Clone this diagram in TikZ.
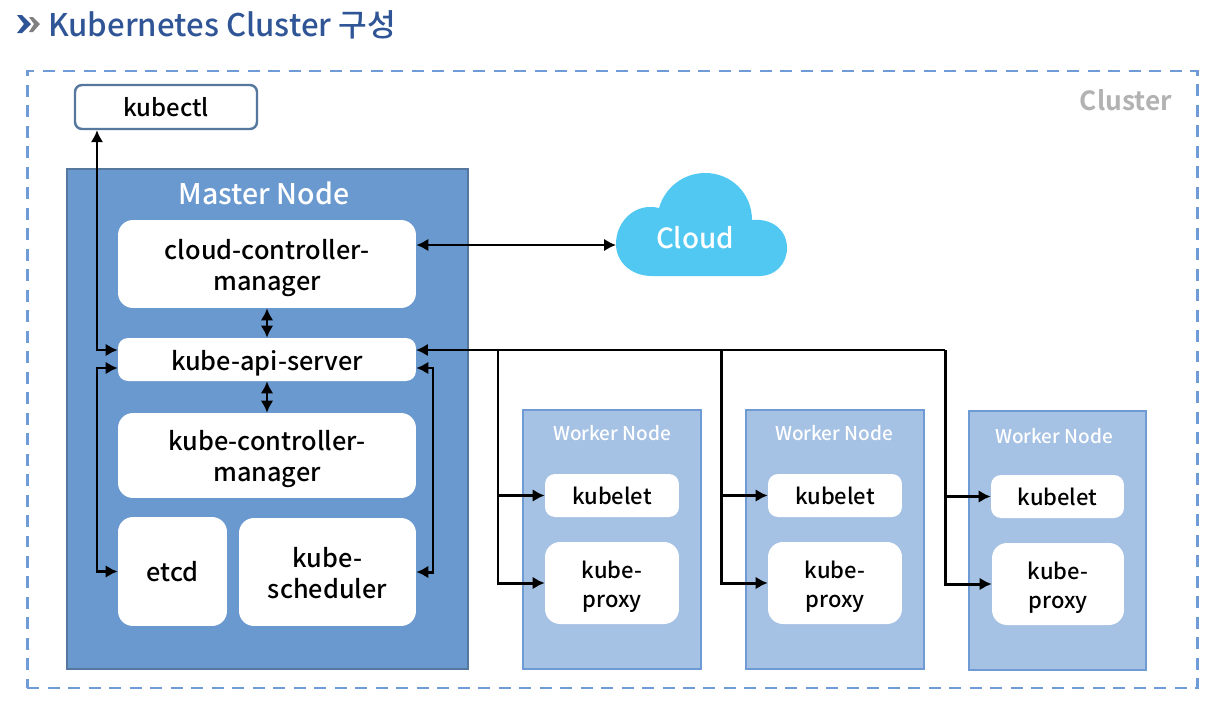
\documentclass[tikz,border=0pt]{standalone}
\usepackage{fontspec}
\setmainfont{Noto Sans CJK KR Medium}[BoldFont={Noto Sans CJK KR Bold}]
\usetikzlibrary{arrows.meta}
\definecolor{titleblue}{HTML}{2F5597}
\definecolor{dashblue}{HTML}{6F9BD6}
\definecolor{masterfill}{HTML}{6A99CF}
\definecolor{masterline}{HTML}{56789F}
\definecolor{workerfill}{HTML}{A5C1E3}
\definecolor{workerline}{HTML}{6E9BD3}
\definecolor{cloudfill}{HTML}{50C8F2}
\tikzset{
  box/.style = {fill=white, rounded corners=0.3cm, align=center, text=black, inner sep=0pt,
                font=\fontsize{14.4}{17.6}\selectfont},
  smallbox/.style = {box, rounded corners=0.2cm},
  worker/.style = {draw=workerline, line width=1.4pt, fill=workerfill, inner sep=0pt,
                   minimum height=5.18cm, minimum width=3.56cm},
  link/.style = {line width=1.7pt, >={Latex[length=6.8pt,width=7.2pt]}, black},
}
\begin{document}
\begin{tikzpicture}[x=0.02cm, y=-0.02cm]
\useasboundingbox (0,0) rectangle (1224,700);
% title
\fill[titleblue] (17,15) -- (22,15) -- (31,24) -- (22,33) -- (17,33) -- (24,24) -- cycle;
\fill[gray] (29,17) -- (33,17) -- (40,24) -- (33,32) -- (29,32) -- (34,24) -- cycle;
\node[anchor=west, inner sep=0pt, text=titleblue, font=\fontsize{17.75}{20}\selectfont] (title) at (48,25) {Kubernetes Cluster 구성};
% cluster
\node[draw=dashblue, line width=1.6pt, dash pattern=on 0.24cm off 0.17cm, minimum width=23.42cm, minimum height=12.34cm, inner sep=0pt] (cluster) at (612.5,379.5) {};
\node[text=black!30, font=\fontsize{15}{18}\selectfont\bfseries, inner sep=0pt] (clusterlabel) at (1126,100) {Cluster};
\node[draw=masterline, line width=1.4pt, fill=white, rounded corners=0.14cm, minimum width=3.64cm, minimum height=0.88cm, inner sep=0pt, font=\fontsize{13.6}{17.6}\selectfont] (kubectl) at (166,107) {kubectl};
% master node
\node[draw=masterline, line width=1.6pt, fill=masterfill, minimum width=8.02cm, minimum height=10cm, inner sep=0pt] (master) at (267.5,419) {};
\node[text=white, inner sep=0pt, font=\fontsize{16.2}{18}\selectfont] (mastertitle) at (264,193) {Master Node};
\node[box, text height=33.1pt, text depth=3.2pt, minimum width=5.96cm, minimum height=1.76cm] (cloudctl) at (267,264) {cloud-controller-\\manager};
\node[smallbox, execute at begin node={\rule{0pt}{1.06em}}, minimum width=5.96cm, minimum height=0.86cm] (api) at (267,359.5) {kube-api-server};
\node[box, text height=32.6pt, text depth=3.2pt, minimum width=5.96cm, minimum height=1.70cm] (kubectl2) at (267,455.5) {kube-controller-\\manager};
\node[box, minimum width=2.18cm, minimum height=2.18cm] (etcd) at (172.5,571.5) {etcd};
\node[box, text height=30.3pt, text depth=0.2pt, minimum width=3.54cm, minimum height=2.16cm] (sched) at (327.5,572) {kube-\\scheduler};
% cloud
\fill[cloudfill] (652,276) .. controls (631,276) and (616,262) .. (616,244)
  .. controls (616,224) and (631,207) .. (650,207)
  .. controls (653,207) and (656,207) .. (659,208)
  .. controls (665,187) and (684,173) .. (705,173)
  .. controls (732,173) and (752,194) .. (752,220)
  .. controls (772,218) and (787,230) .. (787,248)
  .. controls (787,264) and (775,276) .. (760,276) -- cycle;
\node[text=white, inner sep=0pt, font=\fontsize{15.8}{18}\selectfont] (cloud) at (695,238) {Cloud};
\coordinate (cloudW) at (616,245);
% worker nodes
\node[worker] (w1) at (612,539.5) {};
\node[worker] (w2) at (835,539.5) {};
\node[worker, minimum width=3.54cm] (w3) at (1057.5,540.5) {};
\node[text=white, inner sep=0pt, font=\fontsize{10.8}{14}\selectfont] (w1t) at (612,433) {Worker Node};
\node[text=white, inner sep=0pt, font=\fontsize{10.8}{14}\selectfont] (w2t) at (834,433) {Worker Node};
\node[text=white, inner sep=0pt, font=\fontsize{10.8}{14}\selectfont] (w3t) at (1054,436) {Worker Node};
\node[smallbox, font=\fontsize{12.5}{16.4}\selectfont, minimum width=2.68cm, minimum height=0.86cm] (let1) at (612,495.5) {kubelet};
\node[smallbox, font=\fontsize{12.5}{16.4}\selectfont, minimum width=2.68cm, minimum height=0.86cm] (let2) at (835,495.5) {kubelet};
\node[smallbox, font=\fontsize{12.5}{16.4}\selectfont, minimum width=2.66cm, minimum height=0.86cm] (let3) at (1057.5,496.5) {kubelet};
\node[box, font=\fontsize{12.5}{16.4}\selectfont, text height=30.3pt, text depth=2.8pt, minimum width=2.68cm, minimum height=1.64cm] (pro1) at (612,583) {kube-\\proxy};
\node[box, font=\fontsize{12.5}{16.4}\selectfont, text height=30.3pt, text depth=2.8pt, minimum width=2.68cm, minimum height=1.64cm] (pro2) at (835,583) {kube-\\proxy};
\node[box, font=\fontsize{12.5}{16.4}\selectfont, text height=30.3pt, text depth=2.8pt, minimum width=2.64cm, minimum height=1.64cm] (pro3) at (1058,584) {kube-\\proxy};
% connectors
\coordinate (a1) at (97,350);
\coordinate (a2) at (97,368);
\coordinate (a3) at (433,368);
\coordinate (b0) at (416,350);
\coordinate (b1) at (498,350);
\coordinate (b2) at (721,350);
\coordinate (b3) at (945,350);
\draw[link, <->] (kubectl.south -| a1) -- (a1) -- (a1 -| api.west);
\draw[link, <->] (a2 -| api.west) -- (a2) |- (etcd.west);
\draw[link, <->] (a3 -| api.east) -- (a3) |- (sched.east);
\draw[link, <->] (cloudctl.east |- cloudW) -- (cloudW);
\draw[link, <->] (cloudctl.south) -- (api.north);
\draw[link, <->] (api.south) -- (kubectl2.north);
\draw[link, <-] (b0) -- (b3);
\draw[link, ->] (b1) |- (let1.west);
\draw[link, ->] (b1) |- (pro1.west);
\draw[link, ->] (b2) |- (let2.west);
\draw[link, ->] (b2) |- (pro2.west);
\draw[link, ->] (b3) |- (let3.west);
\draw[link, ->] (b3) |- (pro3.west);
\end{tikzpicture}
\end{document}
